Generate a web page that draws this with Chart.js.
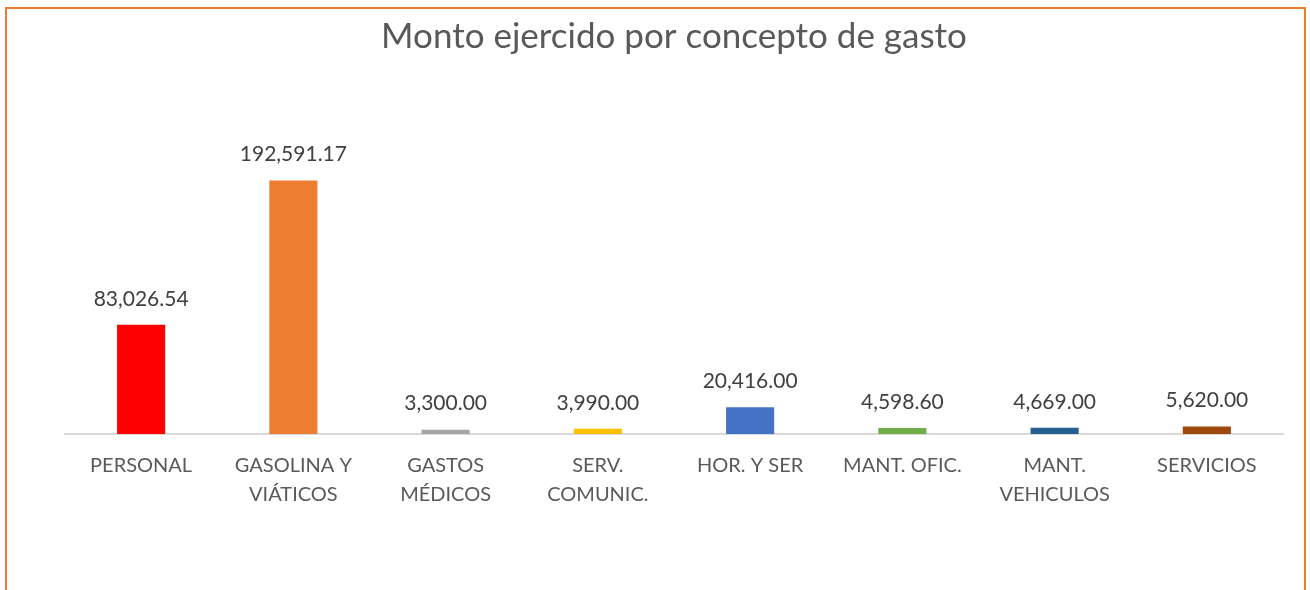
<!DOCTYPE html>
<html>
<head>
<meta charset="utf-8">
<script src="https://cdn.jsdelivr.net/npm/chart.js@4"></script>
<style>
    html, body { margin: 0; padding: 0; background: #fff; overflow: hidden; }
    #frame {
        position: absolute; left: 5px; top: 7px; width: 1301px; height: 620px;
        border: 2px solid #ED7D31; box-sizing: border-box;
    }
    #wrap { position: absolute; left: 0; top: 0; width: 1310px; height: 590px; }
</style>
</head>
<body>
<div id="frame"></div>
<div id="wrap"><canvas id="chart" width="1310" height="590"></canvas></div>
<script>
// Data
const categories = [
    'PERSONAL',
    ['GASOLINA Y', 'VIÁTICOS'],
    ['GASTOS', 'MÉDICOS'],
    ['SERV.', 'COMUNIC.'],
    'HOR. Y SER',
    'MANT. OFIC.',
    ['MANT.', 'VEHICULOS'],
    'SERVICIOS'
];
const amounts = [83026.54, 192591.17, 3300.00, 3990.00, 20416.00, 4598.60, 4669.00, 5620.00];
const barColors = ['#FF0000', '#ED7D31', '#A5A5A5', '#FFC000', '#4472C4', '#70AD47', '#255E91', '#9E480E'];

const fontFamily = 'Lato, "Open Sans", sans-serif';

// Draws the value above each bar
const valueLabels = {
    id: 'valueLabels',
    afterDatasetsDraw(chart) {
        const ctx = chart.ctx;
        const meta = chart.getDatasetMeta(0);
        ctx.save();
        ctx.font = '21px ' + fontFamily;
        ctx.fillStyle = '#404040';
        ctx.textAlign = 'center';
        ctx.textBaseline = 'middle';
        meta.data.forEach((bar, i) => {
            const txt = amounts[i].toLocaleString('en-US', { minimumFractionDigits: 2, maximumFractionDigits: 2 });
            ctx.fillText(txt, bar.x, bar.y - 26);
        });
        ctx.restore();
    }
};

function init() {
    const ctx = document.getElementById('chart').getContext('2d');
    new Chart(ctx, {
        type: 'bar',
        data: {
            labels: categories,
            datasets: [{
                data: amounts,
                backgroundColor: barColors,
                borderWidth: 0,
                barPercentage: 0.316,
                categoryPercentage: 1.0
            }]
        },
        options: {
            responsive: false,
            animation: false,
            layout: { padding: { left: 65, right: 27, top: 0, bottom: 64 } },
            plugins: {
                legend: { display: false },
                tooltip: { enabled: false },
                title: {
                    display: true,
                    text: 'Monto ejercido por concepto de gasto',
                    color: '#595959',
                    font: { family: fontFamily, size: 35, weight: 'normal' },
                    padding: { top: 16, bottom: 47 }
                }
            },
            scales: {
                x: {
                    grid: { display: false, drawTicks: false },
                    border: { display: true, color: '#D9D9D9', width: 2 },
                    ticks: {
                        color: '#595959',
                        font: { family: fontFamily, size: 20, lineHeight: 1.45 },
                        padding: 17,
                        maxRotation: 0,
                        autoSkip: false
                    }
                },
                y: {
                    display: false,
                    min: 0,
                    max: 250000
                }
            }
        },
        plugins: [valueLabels]
    });
}

document.addEventListener('DOMContentLoaded', init);
</script>
</body>
</html>
